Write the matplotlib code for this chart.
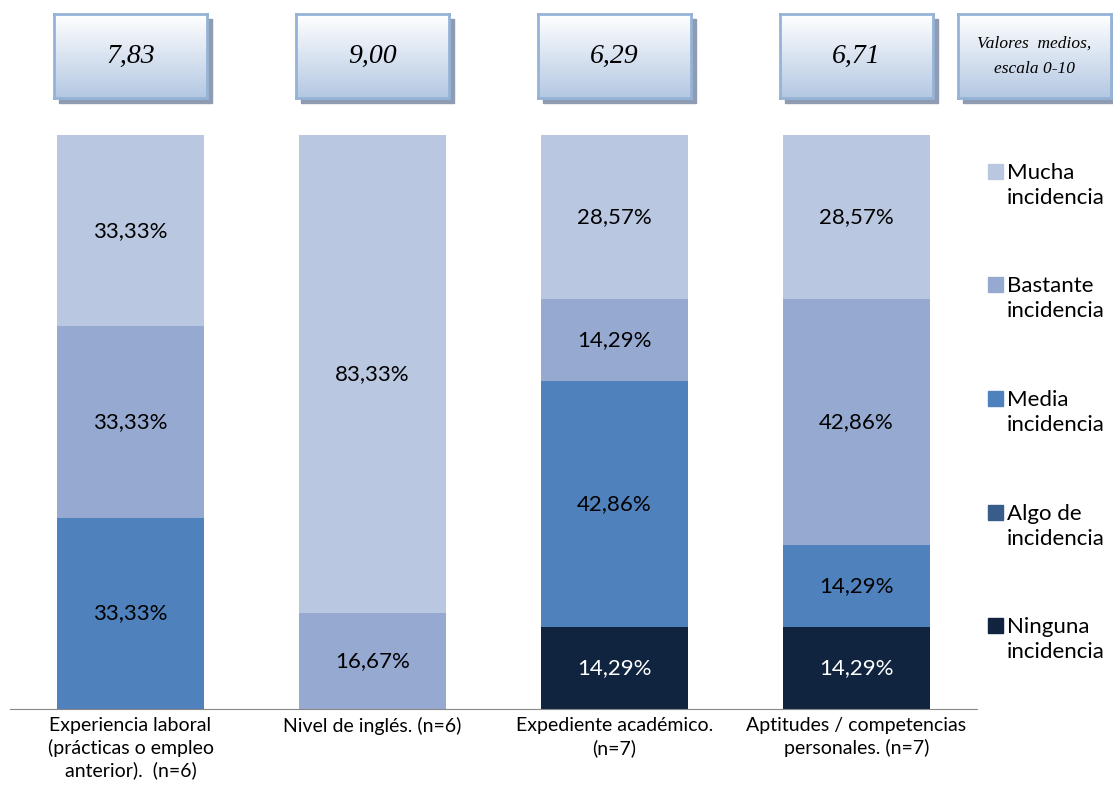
import numpy as np
import matplotlib.pyplot as plt
from matplotlib.patches import Rectangle
from matplotlib.colors import LinearSegmentedColormap

categorias = ["Experiencia laboral\n(prácticas o empleo\nanterior).  (n=6)",
              "Nivel de inglés. (n=6)",
              "Expediente académico.\n(n=7)",
              "Aptitudes / competencias\npersonales. (n=7)"]
medias = ["7,83", "9,00", "6,29", "6,71"]

niveles = ["Ninguna\nincidencia", "Algo de\nincidencia", "Media\nincidencia",
           "Bastante\nincidencia", "Mucha\nincidencia"]
ninguna = [0, 0, 14.29, 14.29]
algo = [0, 0, 0, 0]
media = [33.33, 0, 42.86, 14.29]
bastante = [33.33, 16.67, 14.29, 42.86]
mucha = [33.33, 83.33, 28.57, 28.57]
series = [ninguna, algo, media, bastante, mucha]
colores = ["#10243F", "#385D8A", "#4F81BD", "#95A9D1", "#B9C7E0"]
texto_col = ["white", "white", "black", "black", "black"]

W, H = 1113, 792
fig = plt.figure(figsize=(W / 100, H / 100), dpi=100)
plt.rcParams['font.family'] = ['Lato', 'DejaVu Sans']

ax = fig.add_axes([9.5 / W, (H - 709) / H, 968 / W, (709 - 135) / H])
x = np.arange(len(categorias))
base = np.zeros(len(categorias))
for vals, col, tc in zip(series, colores, texto_col):
    vals = np.array(vals)
    ax.bar(x, vals, 0.607, bottom=base, color=col, linewidth=0)
    for xi, b, v in zip(x, base, vals):
        if v > 0:
            ax.text(xi, b + v / 2, f"{v:.2f}".replace(".", ",") + "%",
                    ha="center", va="center", fontsize=16, color=tc)
    base += vals

ax.set_xlim(-0.5, 3.5)
ax.set_ylim(0, 100)
ax.set_yticks([])
ax.set_xticks(x)
ax.set_xticklabels(categorias, fontsize=14, linespacing=1.3)
ax.tick_params(axis="x", length=0, pad=6)
for s in ["top", "left", "right"]:
    ax.spines[s].set_visible(False)
ax.spines["bottom"].set_color("#888888")

# cajas con valores medios
grad = np.linspace(0, 1, 100).reshape(-1, 1)
cmap = LinearSegmentedColormap.from_list("g", ["#FFFFFF", "#B4C8E2"])


def caja(cx, texto, fs, ls=1.2):
    bw, bh, top = 153, 84, 14
    left = cx - bw / 2
    sh = Rectangle(((left + 5) / W, (H - top - bh - 5) / H), bw / W, bh / H,
                   transform=fig.transFigure, color="#8E9BB0", zorder=1)
    fig.add_artist(sh)
    bax = fig.add_axes([left / W, (H - top - bh) / H, bw / W, bh / H], zorder=2)
    bax.imshow(grad, aspect="auto", cmap=cmap, extent=[0, 1, 0, 1])
    bax.set_xticks([])
    bax.set_yticks([])
    for s in bax.spines.values():
        s.set_color("#95B3D7")
        s.set_linewidth(2)
    bax.text(0.5, 0.5, texto, ha="center", va="center", fontsize=fs,
             style="italic", family="Liberation Serif", linespacing=ls,
             transform=bax.transAxes)


for i, m in enumerate(medias):
    caja(9.5 + (i + 0.5) * 242, m, 20)
caja(958 + 76.5, "Valores  medios,\nescala 0-10", 12.5, 1.8)

# leyenda
ys = [171, 284, 398, 512, 625]
for nivel, col, y in zip(niveles[::-1], colores[::-1], ys):
    fig.add_artist(Rectangle((988 / W, (H - y - 7.5) / H), 15 / W, 15 / H,
                             transform=fig.transFigure, color=col))
    fig.text(1007 / W, (H - y - 14.5) / H, nivel, ha="left", va="center",
             fontsize=16, linespacing=1.3)

fig.savefig("out.png", dpi=100)
